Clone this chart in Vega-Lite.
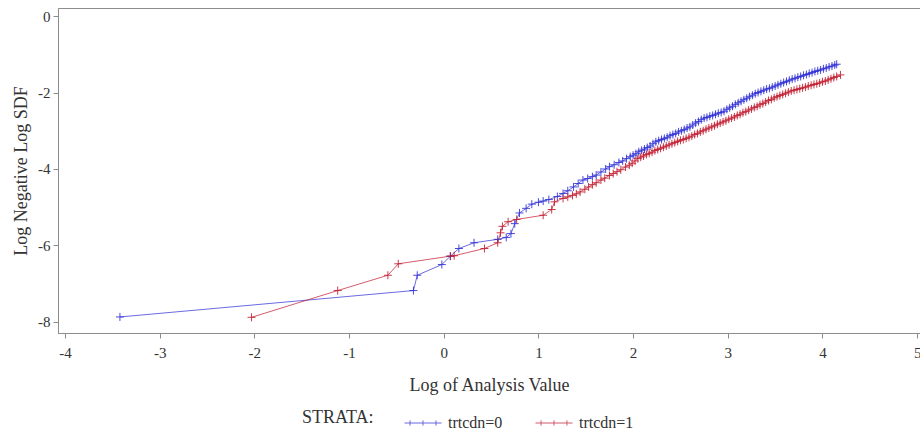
{
  "$schema": "https://vega.github.io/schema/vega-lite/v6.json",
  "width": 862,
  "height": 325,
  "autosize": {"type": "none"},
  "padding": {"left": 58, "top": 8, "right": 0, "bottom": 103},
  "background": "white",
  "config": {
    "font": "Liberation Serif",
    "view": {"stroke": "#8c8c8c", "strokeWidth": 1},
    "axis": {
      "grid": false,
      "domainColor": "#8c8c8c",
      "tickColor": "#8c8c8c",
      "tickSize": 5,
      "labelColor": "#333333",
      "titleColor": "#333333",
      "labelFontSize": 15,
      "titleFontSize": 18,
      "titleFontWeight": "normal"
    },
    "legend": {
      "labelColor": "#333333",
      "titleColor": "#333333"
    }
  },
  "datasets": {
    "pts": [
      {"x": -3.42, "y": -7.87, "s": "trtcdn=0"},
      {"x": -0.32, "y": -7.18, "s": "trtcdn=0"},
      {"x": -0.28, "y": -6.78, "s": "trtcdn=0"},
      {"x": -0.02, "y": -6.5, "s": "trtcdn=0"},
      {"x": 0.07, "y": -6.28, "s": "trtcdn=0"},
      {"x": 0.16, "y": -6.08, "s": "trtcdn=0"},
      {"x": 0.32, "y": -5.93, "s": "trtcdn=0"},
      {"x": 0.57, "y": -5.84, "s": "trtcdn=0"},
      {"x": 0.66, "y": -5.79, "s": "trtcdn=0"},
      {"x": 0.71, "y": -5.69, "s": "trtcdn=0"},
      {"x": 0.75, "y": -5.43, "s": "trtcdn=0"},
      {"x": 0.8, "y": -5.15, "s": "trtcdn=0"},
      {"x": 0.87, "y": -5.03, "s": "trtcdn=0"},
      {"x": 0.93, "y": -4.92, "s": "trtcdn=0"},
      {"x": 1.0, "y": -4.87, "s": "trtcdn=0"},
      {"x": 1.05, "y": -4.84, "s": "trtcdn=0"},
      {"x": 1.11, "y": -4.8, "s": "trtcdn=0"},
      {"x": 1.2, "y": -4.72, "s": "trtcdn=0"},
      {"x": 1.26, "y": -4.64, "s": "trtcdn=0"},
      {"x": 1.31, "y": -4.57, "s": "trtcdn=0"},
      {"x": 1.37, "y": -4.47, "s": "trtcdn=0"},
      {"x": 1.42, "y": -4.38, "s": "trtcdn=0"},
      {"x": 1.47, "y": -4.29, "s": "trtcdn=0"},
      {"x": 1.52, "y": -4.25, "s": "trtcdn=0"},
      {"x": 1.57, "y": -4.2, "s": "trtcdn=0"},
      {"x": 1.61, "y": -4.16, "s": "trtcdn=0"},
      {"x": 1.66, "y": -4.08, "s": "trtcdn=0"},
      {"x": 1.71, "y": -4.0, "s": "trtcdn=0"},
      {"x": 1.75, "y": -3.94, "s": "trtcdn=0"},
      {"x": 1.8, "y": -3.89, "s": "trtcdn=0"},
      {"x": 1.85, "y": -3.83, "s": "trtcdn=0"},
      {"x": 1.89, "y": -3.79, "s": "trtcdn=0"},
      {"x": 1.93, "y": -3.73, "s": "trtcdn=0"},
      {"x": 1.97, "y": -3.68, "s": "trtcdn=0"},
      {"x": 2.0, "y": -3.64, "s": "trtcdn=0"},
      {"x": 2.03, "y": -3.6, "s": "trtcdn=0"},
      {"x": 2.06, "y": -3.55, "s": "trtcdn=0"},
      {"x": 2.09, "y": -3.51, "s": "trtcdn=0"},
      {"x": 2.12, "y": -3.48, "s": "trtcdn=0"},
      {"x": 2.15, "y": -3.44, "s": "trtcdn=0"},
      {"x": 2.18, "y": -3.4, "s": "trtcdn=0"},
      {"x": 2.21, "y": -3.34, "s": "trtcdn=0"},
      {"x": 2.24, "y": -3.29, "s": "trtcdn=0"},
      {"x": 2.27, "y": -3.26, "s": "trtcdn=0"},
      {"x": 2.3, "y": -3.23, "s": "trtcdn=0"},
      {"x": 2.33, "y": -3.2, "s": "trtcdn=0"},
      {"x": 2.36, "y": -3.17, "s": "trtcdn=0"},
      {"x": 2.39, "y": -3.13, "s": "trtcdn=0"},
      {"x": 2.42, "y": -3.1, "s": "trtcdn=0"},
      {"x": 2.45, "y": -3.07, "s": "trtcdn=0"},
      {"x": 2.48, "y": -3.03, "s": "trtcdn=0"},
      {"x": 2.51, "y": -3.0, "s": "trtcdn=0"},
      {"x": 2.54, "y": -2.97, "s": "trtcdn=0"},
      {"x": 2.57, "y": -2.93, "s": "trtcdn=0"},
      {"x": 2.6, "y": -2.9, "s": "trtcdn=0"},
      {"x": 2.63, "y": -2.85, "s": "trtcdn=0"},
      {"x": 2.66, "y": -2.8, "s": "trtcdn=0"},
      {"x": 2.69, "y": -2.76, "s": "trtcdn=0"},
      {"x": 2.72, "y": -2.71, "s": "trtcdn=0"},
      {"x": 2.75, "y": -2.67, "s": "trtcdn=0"},
      {"x": 2.78, "y": -2.65, "s": "trtcdn=0"},
      {"x": 2.81, "y": -2.62, "s": "trtcdn=0"},
      {"x": 2.84, "y": -2.6, "s": "trtcdn=0"},
      {"x": 2.87, "y": -2.57, "s": "trtcdn=0"},
      {"x": 2.9, "y": -2.54, "s": "trtcdn=0"},
      {"x": 2.93, "y": -2.52, "s": "trtcdn=0"},
      {"x": 2.96, "y": -2.49, "s": "trtcdn=0"},
      {"x": 2.99, "y": -2.44, "s": "trtcdn=0"},
      {"x": 3.02, "y": -2.4, "s": "trtcdn=0"},
      {"x": 3.05, "y": -2.36, "s": "trtcdn=0"},
      {"x": 3.08, "y": -2.31, "s": "trtcdn=0"},
      {"x": 3.11, "y": -2.27, "s": "trtcdn=0"},
      {"x": 3.14, "y": -2.23, "s": "trtcdn=0"},
      {"x": 3.17, "y": -2.19, "s": "trtcdn=0"},
      {"x": 3.2, "y": -2.15, "s": "trtcdn=0"},
      {"x": 3.23, "y": -2.11, "s": "trtcdn=0"},
      {"x": 3.26, "y": -2.07, "s": "trtcdn=0"},
      {"x": 3.29, "y": -2.03, "s": "trtcdn=0"},
      {"x": 3.32, "y": -2.0, "s": "trtcdn=0"},
      {"x": 3.35, "y": -1.97, "s": "trtcdn=0"},
      {"x": 3.38, "y": -1.94, "s": "trtcdn=0"},
      {"x": 3.41, "y": -1.91, "s": "trtcdn=0"},
      {"x": 3.44, "y": -1.89, "s": "trtcdn=0"},
      {"x": 3.47, "y": -1.86, "s": "trtcdn=0"},
      {"x": 3.5, "y": -1.83, "s": "trtcdn=0"},
      {"x": 3.53, "y": -1.8, "s": "trtcdn=0"},
      {"x": 3.56, "y": -1.77, "s": "trtcdn=0"},
      {"x": 3.59, "y": -1.74, "s": "trtcdn=0"},
      {"x": 3.62, "y": -1.71, "s": "trtcdn=0"},
      {"x": 3.65, "y": -1.68, "s": "trtcdn=0"},
      {"x": 3.68, "y": -1.65, "s": "trtcdn=0"},
      {"x": 3.71, "y": -1.63, "s": "trtcdn=0"},
      {"x": 3.74, "y": -1.6, "s": "trtcdn=0"},
      {"x": 3.77, "y": -1.58, "s": "trtcdn=0"},
      {"x": 3.8, "y": -1.55, "s": "trtcdn=0"},
      {"x": 3.83, "y": -1.53, "s": "trtcdn=0"},
      {"x": 3.86, "y": -1.5, "s": "trtcdn=0"},
      {"x": 3.89, "y": -1.48, "s": "trtcdn=0"},
      {"x": 3.92, "y": -1.45, "s": "trtcdn=0"},
      {"x": 3.95, "y": -1.43, "s": "trtcdn=0"},
      {"x": 3.98, "y": -1.41, "s": "trtcdn=0"},
      {"x": 4.01, "y": -1.38, "s": "trtcdn=0"},
      {"x": 4.04, "y": -1.36, "s": "trtcdn=0"},
      {"x": 4.07, "y": -1.33, "s": "trtcdn=0"},
      {"x": 4.1, "y": -1.31, "s": "trtcdn=0"},
      {"x": 4.13, "y": -1.28, "s": "trtcdn=0"},
      {"x": 4.15, "y": -1.26, "s": "trtcdn=0"},
      {"x": -2.03, "y": -7.88, "s": "trtcdn=1"},
      {"x": -1.12, "y": -7.18, "s": "trtcdn=1"},
      {"x": -0.59, "y": -6.78, "s": "trtcdn=1"},
      {"x": -0.48, "y": -6.48, "s": "trtcdn=1"},
      {"x": 0.07, "y": -6.28, "s": "trtcdn=1"},
      {"x": 0.11, "y": -6.27, "s": "trtcdn=1"},
      {"x": 0.43, "y": -6.08, "s": "trtcdn=1"},
      {"x": 0.57, "y": -5.93, "s": "trtcdn=1"},
      {"x": 0.6, "y": -5.67, "s": "trtcdn=1"},
      {"x": 0.62, "y": -5.5, "s": "trtcdn=1"},
      {"x": 0.68, "y": -5.38, "s": "trtcdn=1"},
      {"x": 0.77, "y": -5.32, "s": "trtcdn=1"},
      {"x": 1.05, "y": -5.21, "s": "trtcdn=1"},
      {"x": 1.14, "y": -5.06, "s": "trtcdn=1"},
      {"x": 1.17, "y": -4.86, "s": "trtcdn=1"},
      {"x": 1.26, "y": -4.77, "s": "trtcdn=1"},
      {"x": 1.31, "y": -4.73, "s": "trtcdn=1"},
      {"x": 1.36, "y": -4.69, "s": "trtcdn=1"},
      {"x": 1.4, "y": -4.65, "s": "trtcdn=1"},
      {"x": 1.44, "y": -4.6, "s": "trtcdn=1"},
      {"x": 1.49, "y": -4.53, "s": "trtcdn=1"},
      {"x": 1.53, "y": -4.47, "s": "trtcdn=1"},
      {"x": 1.57, "y": -4.41, "s": "trtcdn=1"},
      {"x": 1.61, "y": -4.36, "s": "trtcdn=1"},
      {"x": 1.66, "y": -4.29, "s": "trtcdn=1"},
      {"x": 1.7, "y": -4.24, "s": "trtcdn=1"},
      {"x": 1.75, "y": -4.17, "s": "trtcdn=1"},
      {"x": 1.79, "y": -4.12, "s": "trtcdn=1"},
      {"x": 1.83, "y": -4.07, "s": "trtcdn=1"},
      {"x": 1.87, "y": -4.02, "s": "trtcdn=1"},
      {"x": 1.92, "y": -3.95, "s": "trtcdn=1"},
      {"x": 1.96, "y": -3.9, "s": "trtcdn=1"},
      {"x": 1.99, "y": -3.85, "s": "trtcdn=1"},
      {"x": 2.02, "y": -3.79, "s": "trtcdn=1"},
      {"x": 2.05, "y": -3.73, "s": "trtcdn=1"},
      {"x": 2.08, "y": -3.69, "s": "trtcdn=1"},
      {"x": 2.11, "y": -3.66, "s": "trtcdn=1"},
      {"x": 2.14, "y": -3.62, "s": "trtcdn=1"},
      {"x": 2.17, "y": -3.59, "s": "trtcdn=1"},
      {"x": 2.2, "y": -3.56, "s": "trtcdn=1"},
      {"x": 2.23, "y": -3.52, "s": "trtcdn=1"},
      {"x": 2.26, "y": -3.49, "s": "trtcdn=1"},
      {"x": 2.29, "y": -3.46, "s": "trtcdn=1"},
      {"x": 2.32, "y": -3.43, "s": "trtcdn=1"},
      {"x": 2.35, "y": -3.4, "s": "trtcdn=1"},
      {"x": 2.38, "y": -3.37, "s": "trtcdn=1"},
      {"x": 2.41, "y": -3.34, "s": "trtcdn=1"},
      {"x": 2.44, "y": -3.31, "s": "trtcdn=1"},
      {"x": 2.47, "y": -3.28, "s": "trtcdn=1"},
      {"x": 2.5, "y": -3.25, "s": "trtcdn=1"},
      {"x": 2.53, "y": -3.23, "s": "trtcdn=1"},
      {"x": 2.56, "y": -3.2, "s": "trtcdn=1"},
      {"x": 2.59, "y": -3.17, "s": "trtcdn=1"},
      {"x": 2.62, "y": -3.14, "s": "trtcdn=1"},
      {"x": 2.65, "y": -3.1, "s": "trtcdn=1"},
      {"x": 2.68, "y": -3.07, "s": "trtcdn=1"},
      {"x": 2.71, "y": -3.03, "s": "trtcdn=1"},
      {"x": 2.74, "y": -3.0, "s": "trtcdn=1"},
      {"x": 2.77, "y": -2.96, "s": "trtcdn=1"},
      {"x": 2.8, "y": -2.93, "s": "trtcdn=1"},
      {"x": 2.83, "y": -2.9, "s": "trtcdn=1"},
      {"x": 2.86, "y": -2.87, "s": "trtcdn=1"},
      {"x": 2.89, "y": -2.83, "s": "trtcdn=1"},
      {"x": 2.92, "y": -2.8, "s": "trtcdn=1"},
      {"x": 2.95, "y": -2.77, "s": "trtcdn=1"},
      {"x": 2.98, "y": -2.74, "s": "trtcdn=1"},
      {"x": 3.01, "y": -2.7, "s": "trtcdn=1"},
      {"x": 3.04, "y": -2.67, "s": "trtcdn=1"},
      {"x": 3.07, "y": -2.64, "s": "trtcdn=1"},
      {"x": 3.1, "y": -2.6, "s": "trtcdn=1"},
      {"x": 3.13, "y": -2.57, "s": "trtcdn=1"},
      {"x": 3.16, "y": -2.53, "s": "trtcdn=1"},
      {"x": 3.19, "y": -2.5, "s": "trtcdn=1"},
      {"x": 3.22, "y": -2.46, "s": "trtcdn=1"},
      {"x": 3.25, "y": -2.43, "s": "trtcdn=1"},
      {"x": 3.28, "y": -2.39, "s": "trtcdn=1"},
      {"x": 3.31, "y": -2.36, "s": "trtcdn=1"},
      {"x": 3.34, "y": -2.32, "s": "trtcdn=1"},
      {"x": 3.37, "y": -2.29, "s": "trtcdn=1"},
      {"x": 3.4, "y": -2.25, "s": "trtcdn=1"},
      {"x": 3.43, "y": -2.21, "s": "trtcdn=1"},
      {"x": 3.46, "y": -2.18, "s": "trtcdn=1"},
      {"x": 3.49, "y": -2.14, "s": "trtcdn=1"},
      {"x": 3.52, "y": -2.11, "s": "trtcdn=1"},
      {"x": 3.55, "y": -2.08, "s": "trtcdn=1"},
      {"x": 3.58, "y": -2.05, "s": "trtcdn=1"},
      {"x": 3.61, "y": -2.02, "s": "trtcdn=1"},
      {"x": 3.64, "y": -1.99, "s": "trtcdn=1"},
      {"x": 3.67, "y": -1.96, "s": "trtcdn=1"},
      {"x": 3.7, "y": -1.94, "s": "trtcdn=1"},
      {"x": 3.73, "y": -1.92, "s": "trtcdn=1"},
      {"x": 3.76, "y": -1.9, "s": "trtcdn=1"},
      {"x": 3.79, "y": -1.88, "s": "trtcdn=1"},
      {"x": 3.82, "y": -1.86, "s": "trtcdn=1"},
      {"x": 3.85, "y": -1.83, "s": "trtcdn=1"},
      {"x": 3.88, "y": -1.81, "s": "trtcdn=1"},
      {"x": 3.91, "y": -1.79, "s": "trtcdn=1"},
      {"x": 3.94, "y": -1.77, "s": "trtcdn=1"},
      {"x": 3.97, "y": -1.75, "s": "trtcdn=1"},
      {"x": 4.0, "y": -1.72, "s": "trtcdn=1"},
      {"x": 4.03, "y": -1.7, "s": "trtcdn=1"},
      {"x": 4.06, "y": -1.67, "s": "trtcdn=1"},
      {"x": 4.09, "y": -1.64, "s": "trtcdn=1"},
      {"x": 4.12, "y": -1.61, "s": "trtcdn=1"},
      {"x": 4.15, "y": -1.58, "s": "trtcdn=1"},
      {"x": 4.19, "y": -1.54, "s": "trtcdn=1"}
    ]
  },
  "data": {"name": "pts"},
  "encoding": {
    "x": {
      "field": "x",
      "type": "quantitative",
      "scale": {"domain": [-4.074, 5.03], "nice": false, "zero": false},
      "axis": {
        "values": [-4, -3, -2, -1, 0, 1, 2, 3, 4, 5],
        "title": "Log of Analysis Value",
        "labelExpr": "'' + datum.value",
        "labelFont": "Times New Roman",
        "titleFont": "Times New Roman",
        "labelPadding": 7,
        "titlePadding": 16
      }
    },
    "y": {
      "field": "y",
      "type": "quantitative",
      "scale": {"domain": [-8.29, 0.21], "nice": false, "zero": false},
      "axis": {
        "values": [-8, -6, -4, -2, 0],
        "title": "Log Negative Log SDF",
        "labelExpr": "'' + datum.value",
        "labelFont": "Times New Roman",
        "titleFont": "Times New Roman",
        "labelPadding": 3,
        "titlePadding": 7
      }
    },
    "color": {
      "field": "s",
      "type": "nominal",
      "scale": {"domain": ["trtcdn=0", "trtcdn=1"], "range": ["#2b2bd6", "#c0182c"]},
      "legend": {
        "title": "STRATA:",
        "orient": "none",
        "legendX": 244,
        "legendY": 396,
        "direction": "horizontal",
        "titleOrient": "left",
        "titleFont": "Times New Roman",
        "labelFont": "Times New Roman",
        "titleFontSize": 18,
        "titleFontWeight": "normal",
        "titlePadding": 30,
        "labelFontSize": 16,
        "labelOffset": 6,
        "columnPadding": 30,
        "symbolType": "M-1,0H1M-0.7,-0.14V0.14M0,-0.14V0.14M0.7,-0.14V0.14",
        "symbolSize": 1369,
        "symbolStrokeWidth": 1
      }
    }
  },
  "layer": [
    {"mark": {"type": "line", "strokeWidth": 1, "opacity": 0.7, "clip": true}},
    {"mark": {"type": "point", "shape": "M-1,0H1M0,-1V1", "filled": false, "size": 64, "strokeWidth": 1, "opacity": 0.85, "clip": true}}
  ]
}
